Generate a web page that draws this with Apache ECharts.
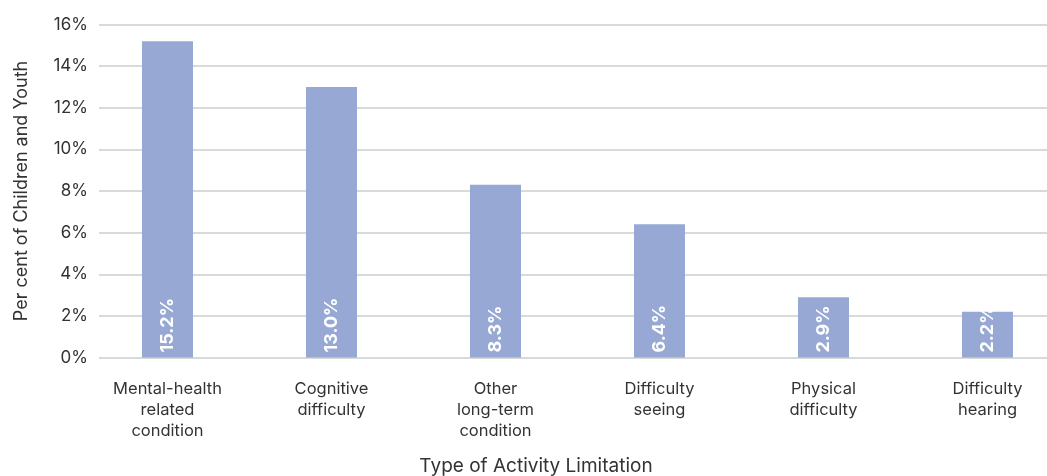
<!DOCTYPE html>
<html>
<head>
<meta charset="utf-8">
<script src="https://cdn.jsdelivr.net/npm/echarts@6/dist/echarts.min.js"></script>
<style>
  html, body { margin: 0; padding: 0; background: #fff; }
  #chart { width: 1047px; height: 476px; }
</style>
</head>
<body>
<div id="chart"></div>
<script>
// Share of children and youth by type of activity limitation
const categories = [
  'Mental-health\nrelated\ncondition',
  'Cognitive\ndifficulty',
  'Other\nlong-term\ncondition',
  'Difficulty\nseeing',
  'Physical\ndifficulty',
  'Difficulty\nhearing'
];
const percentValues = [15.2, 13.0, 8.3, 6.4, 2.9, 2.2];
const yMax = 16;
const yStep = 2;
const xTitle = 'Type of Activity Limitation';
const yTitle = 'Per cent of Children and Youth';

const FONT = 'Inter, "Noto Sans", sans-serif';
const TEXT = '#333333';

const chart = echarts.init(document.getElementById('chart'), null, { renderer: 'canvas' });

chart.setOption({
  animation: false,
  backgroundColor: '#ffffff',
  textStyle: { fontFamily: FONT },
  grid: [
    // value scale and gridlines
    { left: 99, right: 0, top: 24.5, bottom: 118.5, containLabel: false, outerBoundsMode: 'none' },
    // category bands for the bars
    { left: 85.5, right: -22.5, top: 24.5, bottom: 118.5, containLabel: false, outerBoundsMode: 'none' }
  ],
  // horizontal axis title
  graphic: [
    {
      type: 'text',
      x: 536,
      y: 457,
      style: {
        text: xTitle,
        fill: TEXT,
        font: '19px ' + FONT,
        textAlign: 'center',
        textVerticalAlign: 'top'
      }
    }
  ],
  xAxis: [
    { gridIndex: 0, type: 'value', show: false, min: 0, max: 1 },
    {
      gridIndex: 1,
      type: 'category',
      data: categories,
      axisLine: { show: false },
      axisTick: { show: false },
      axisLabel: {
        color: TEXT,
        fontFamily: FONT,
        fontSize: 16.5,
        lineHeight: 21,
        margin: 21,
        interval: 0
      }
    }
  ],
  yAxis: [
    {
      gridIndex: 0,
      type: 'value',
      min: 0,
      max: yMax,
      interval: yStep,
      axisLine: { show: false },
      axisTick: { show: false },
      axisLabel: {
        formatter: '{value}%',
        color: TEXT,
        fontFamily: FONT,
        fontSize: 17,
        margin: 11
      },
      splitLine: { lineStyle: { color: '#cccccc', width: 1.5 } },
      name: yTitle,
      nameLocation: 'middle',
      nameRotate: 90,
      nameGap: 68,
      nameTextStyle: { color: TEXT, fontFamily: FONT, fontSize: 18 }
    },
    {
      gridIndex: 1,
      type: 'value',
      min: 0,
      max: yMax,
      interval: yStep,
      show: false,
      splitLine: { show: false }
    }
  ],
  series: [
    {
      type: 'bar',
      xAxisIndex: 1,
      yAxisIndex: 1,
      data: percentValues,
      barWidth: 51,
      itemStyle: { color: '#97a8d5' },
      label: {
        show: true,
        position: 'insideBottom',
        rotate: 90,
        align: 'left',
        verticalAlign: 'middle',
        distance: 5,
        color: '#ffffff',
        fontFamily: FONT,
        fontSize: 18,
        fontWeight: 'bold',
        formatter: p => p.value.toFixed(1) + '%'
      }
    }
  ]
});
</script>
</body>
</html>
